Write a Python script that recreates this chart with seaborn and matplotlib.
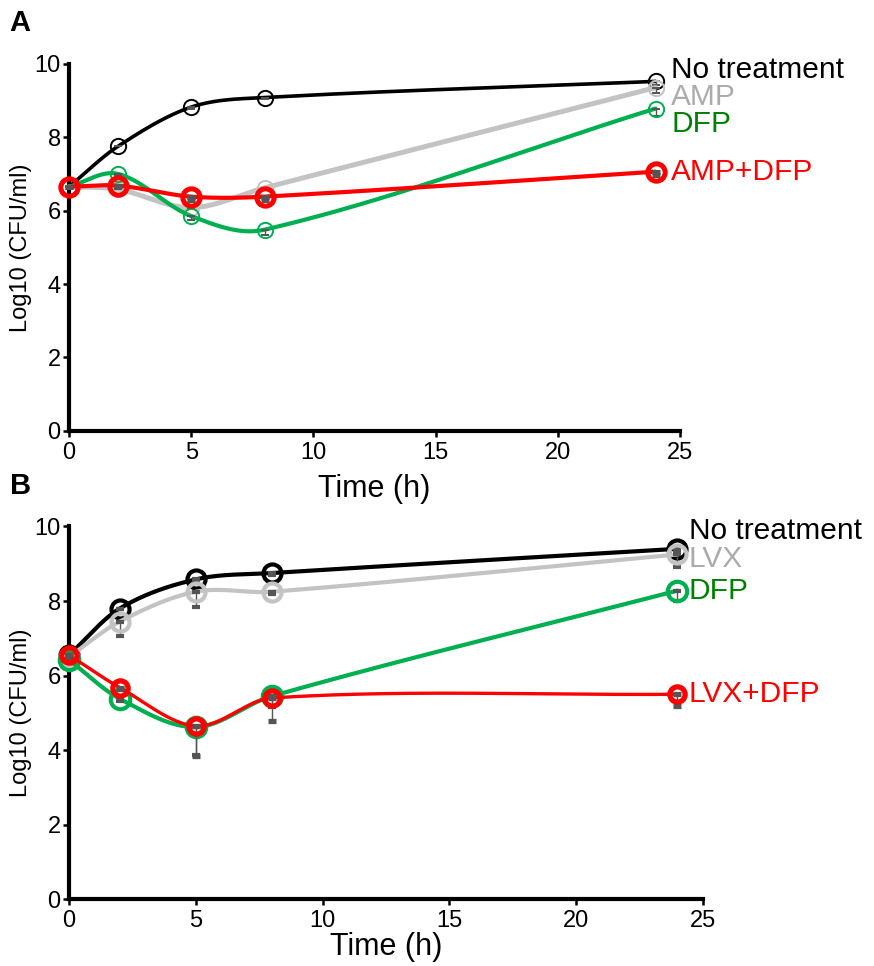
import numpy as np
import pandas as pd
import matplotlib
matplotlib.use("Agg")
import matplotlib.pyplot as plt
import seaborn as sns

# ---------------- data ----------------
time_h = [0, 2, 5, 8, 24]

# Panel A
a_labels = ["No treatment", "AMP", "DFP", "AMP+DFP"]
a_none = [6.65, 7.75, 8.82, 9.08, 9.52]
a_amp = [6.65, 6.58, 6.08, 6.62, 9.35]
a_dfp = [6.65, 7.0, 5.85, 5.48, 8.78]
a_ampdfp = [6.65, 6.68, 6.38, 6.38, 7.06]
a_none_sd = [0.0, 0.0, 0.05, 0.05, 0.1]
a_amp_sd = [0.0, 0.0, 0.05, 0.05, 0.15]
a_dfp_sd = [0.0, 0.05, 0.1, 0.15, 0.2]
a_ampdfp_sd = [0.0, 0.0, 0.1, 0.1, 0.1]

# Panel B
b_labels = ["No treatment", "LVX", "DFP", "LVX+DFP"]
b_none = [6.55, 7.8, 8.58, 8.75, 9.4]
b_lvx = [6.5, 7.45, 8.25, 8.25, 9.25]
b_dfp = [6.42, 5.38, 4.62, 5.45, 8.28]
b_lvxdfp = [6.55, 5.68, 4.65, 5.4, 5.5]
b_none_sd = [0.0, 0.0, 0.05, 0.05, 0.05]
b_lvx_sd = [0.0, 0.4, 0.4, 0.05, 0.33]
b_dfp_sd = [0.0, 0.05, 0.75, 0.3, 0.28]
b_lvxdfp_sd = [0.0, 0.05, 0.8, 0.62, 0.32]

x_ticks = [0, 5, 10, 15, 20, 25]
y_ticks = [0, 2, 4, 6, 8, 10]

# ---------------- style ----------------
sns.set_style("ticks")
plt.rcParams["font.family"] = ["Liberation Sans", "DejaVu Sans"]
plt.rcParams["text.color"] = "black"
plt.rcParams["axes.labelcolor"] = "black"
plt.rcParams["xtick.color"] = "black"
plt.rcParams["ytick.color"] = "black"

C_BLACK = "#000000"
C_GRAY = "#C3C3C3"
C_GREEN = "#00B050"
C_RED = "#FF0000"
T_GRAY = "#ABABAB"
T_GREEN = "#008000"
E_COLOR = "#555555"


def smooth(x, y, n=200):
    """Cubic Hermite curve through the measured points."""
    x = np.asarray(x, float)
    y = np.asarray(y, float)
    h = np.diff(x)
    d = np.diff(y) / h
    m = np.empty_like(y)
    m[0] = d[0]
    m[-1] = d[-1]
    m[1:-1] = (h[:-1] * d[:-1] + h[1:] * d[1:]) / (h[:-1] + h[1:])
    xs, ys = [], []
    for i in range(len(x) - 1):
        hh = x[i + 1] - x[i]
        t = np.linspace(0, 1, n)
        h00 = 2 * t**3 - 3 * t**2 + 1
        h10 = t**3 - 2 * t**2 + t
        h01 = -2 * t**3 + 3 * t**2
        h11 = t**3 - t**2
        xs.append(x[i] + t * hh)
        ys.append(h00 * y[i] + h10 * hh * m[i] + h01 * y[i + 1] + h11 * hh * m[i + 1])
    return np.concatenate(xs), np.concatenate(ys)


fig = plt.figure(figsize=(8.74, 9.66), dpi=100)
axA = fig.add_axes([0.079, 0.554, 0.699, 0.380])
axB = fig.add_axes([0.079, 0.069, 0.725, 0.386])


def draw_series(ax, y, sd, color, lw, ms, mew, z):
    xs, ys = smooth(time_h, y)
    sns.lineplot(x=xs, y=ys, ax=ax, color=color, lw=lw, sort=False,
                 estimator=None, zorder=z, clip_on=False)
    ax.errorbar(time_h, y, yerr=[sd, np.zeros(len(sd))], fmt="o", mfc="none",
                mec=color, ms=ms, mew=mew, ecolor=E_COLOR, elinewidth=1.0,
                capsize=3.0, capthick=1.0, zorder=z + 0.5, clip_on=False)


# Panel A
draw_series(axA, a_none, a_none_sd, C_BLACK, 2.6, 11, 1.4, 3)
draw_series(axA, a_amp, a_amp_sd, C_GRAY, 3.6, 11, 1.4, 4)
draw_series(axA, a_dfp, a_dfp_sd, C_GREEN, 3.0, 11, 1.4, 5)
draw_series(axA, a_ampdfp, a_ampdfp_sd, C_RED, 3.0, 12.5, 3.6, 6)

# Panel B
draw_series(axB, b_none, b_none_sd, C_BLACK, 3.0, 13, 3.0, 3)
draw_series(axB, b_lvx, b_lvx_sd, C_GRAY, 3.0, 13, 3.0, 4)
draw_series(axB, b_dfp, b_dfp_sd, C_GREEN, 3.0, 14, 3.0, 5)
draw_series(axB, b_lvxdfp, b_lvxdfp_sd, C_RED, 2.4, 11, 3.8, 6)

# end labels
a_text_y = [9.84, 9.1, 8.36, 7.06]
a_colors = [C_BLACK, T_GRAY, T_GREEN, C_RED]
for lab, yy, c in zip(a_labels, a_text_y, a_colors):
    axA.text(24.65, yy, lab, color=c, fontsize=21.5, va="center", ha="left",
             clip_on=False)

b_text_y = [9.88, 9.13, 8.28, 5.52]
for lab, yy, c in zip(b_labels, b_text_y, a_colors):
    axB.text(24.45, yy, lab, color=c, fontsize=21.5, va="center", ha="left",
             clip_on=False)

for ax, lp in ((axA, 7), (axB, 0)):
    ax.set_xlim(0, 25)
    ax.set_ylim(0, 10)
    ax.set_xticks(x_ticks)
    ax.set_yticks(y_ticks)
    ax.set_xticklabels([str(v) for v in x_ticks], fontsize=17)
    ax.set_yticklabels([str(v) for v in y_ticks], fontsize=17)
    for s in ("top", "right"):
        ax.spines[s].set_visible(False)
    for s in ("left", "bottom"):
        ax.spines[s].set_linewidth(3.0)
        ax.spines[s].set_color("black")
    ax.tick_params(axis="both", direction="out", length=4, width=1.8,
                   color="black", pad=2)
    ax.tick_params(axis="x", pad=4)
    ax.set_xlabel("Time (h)", fontsize=22, labelpad=lp)
    ax.set_ylabel("Log10 (CFU/ml)", fontsize=17, labelpad=2)
    ax.set_facecolor("white")

fig.text(0.011, 0.976, "A", fontsize=21, fontweight="bold", va="center")
fig.text(0.011, 0.497, "B", fontsize=21, fontweight="bold", va="center")

fig.savefig("out.png", dpi=100, facecolor="white")
